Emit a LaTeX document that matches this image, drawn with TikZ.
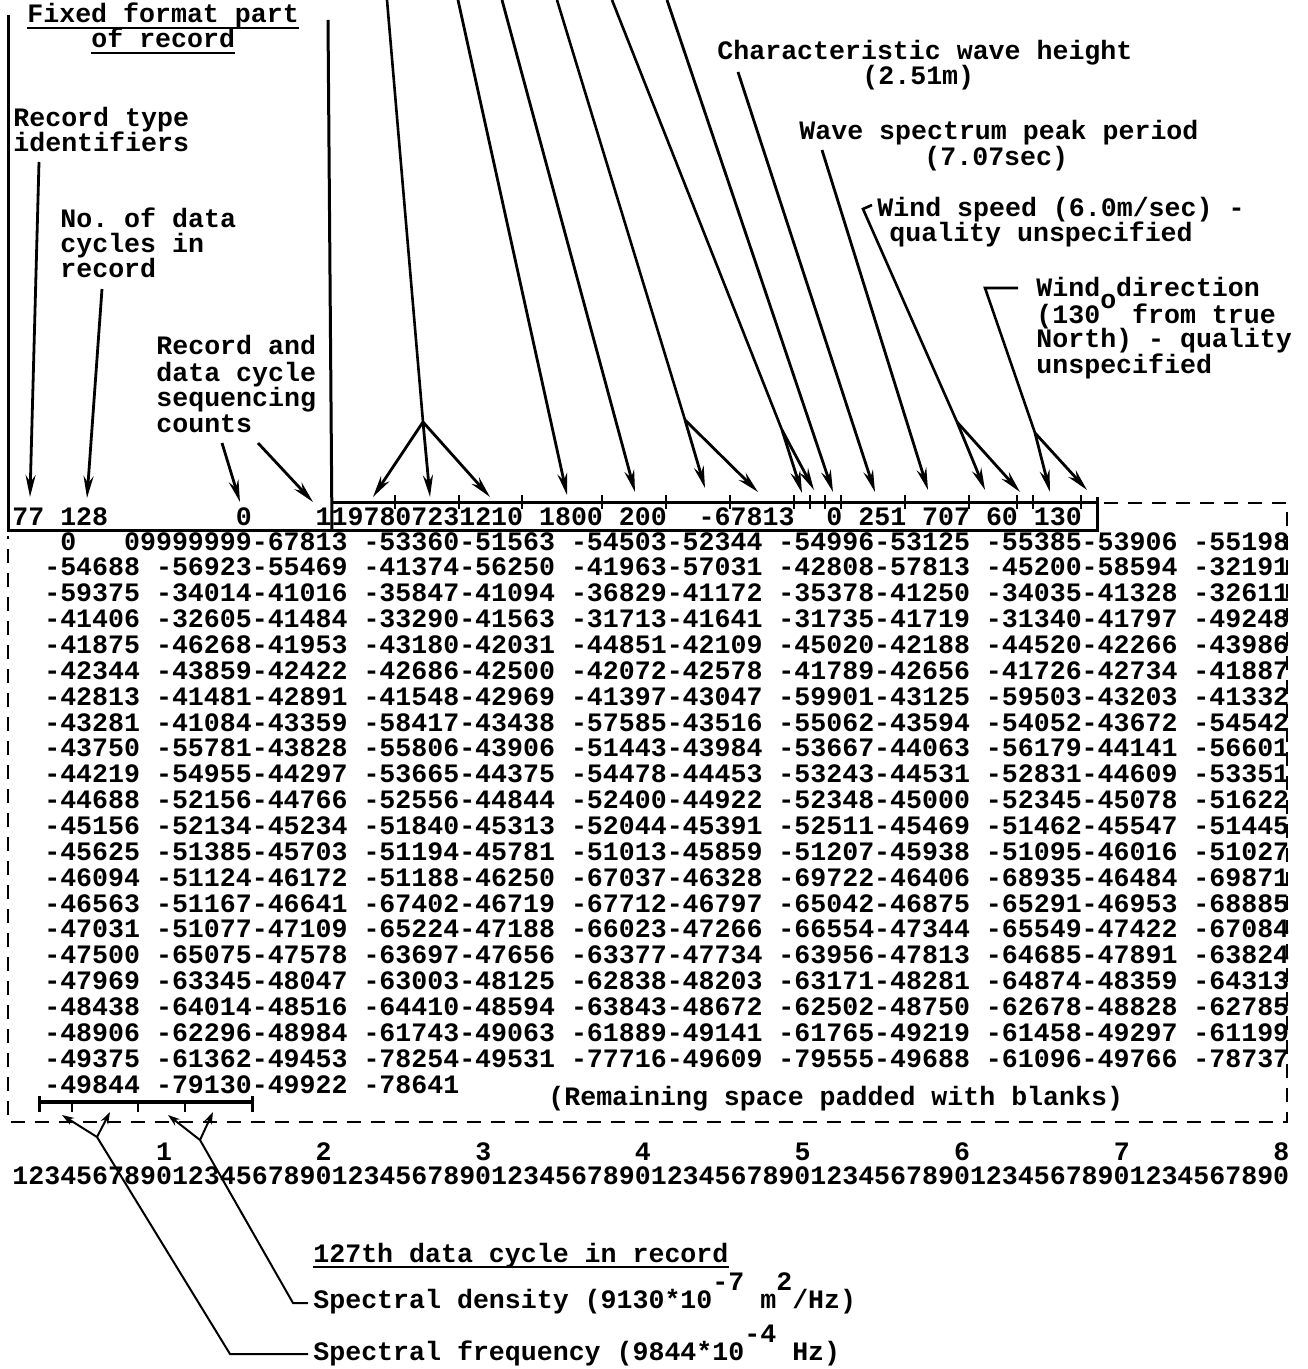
\documentclass[tikz,border=0pt]{standalone}
\usepackage{fontspec}
\setmainfont{Liberation Mono}
\usepackage{tikz}
\usetikzlibrary{arrows.meta,positioning,calc}
\frenchspacing

\begin{document}
\begin{tikzpicture}[x=0.5pt,y=-0.5pt,>={Stealth[length=11pt,width=5pt]},
  every node/.style={font=\fontsize{13.3}{13}\selectfont\bfseries,inner sep=0pt,anchor=base west}]
\tikzset{ptr/.style={->,line width=1.4pt},
  lead/.style={line width=1.3pt},
  fine/.style={line width=1pt},
  upptr/.style={->,line width=1pt,>={Stealth[length=6pt,width=4pt]}},
  frame/.style={line width=1.5pt},
  pad/.style={line width=1.4pt,dash pattern=on 7pt off 5pt}}
\useasboundingbox (0,0) rectangle (1307,1369);

% labels above the record
\node (fix1) at (27,23) {Fixed format part};
\node (fix2) at (91,48) {of record};
\draw[fine] ([yshift=-2.5pt]fix1.base west) -- ([yshift=-2.5pt]fix1.base east);
\draw[fine] ([yshift=-2.5pt]fix2.base west) -- ([yshift=-2.5pt]fix2.base east);
\node (typ1) at (13,127) {Record type};
\node (typ2) at (13,152) {identifiers};
\node (cyc1) at (60,228) {No. of data};
\node (cyc2) at (60,253) {cycles in};
\node (cyc3) at (60,278) {record};
\node (seq1) at (156,355) {Record and};
\node (seq2) at (156,381) {data cycle};
\node (seq3) at (156,406) {sequencing};
\node (seq4) at (156,432) {counts};
\node (hgt1) at (717,60) {Characteristic wave height};
\node (hgt2) at (862,85) {(2.51m)};
\node (per1) at (799,140) {Wave spectrum peak period};
\node (per2) at (924,166) {(7.07sec)};
\node (spd1) at (877,217) {Wind speed (6.0m/sec) -};
\node (spd2) at (889,242) {quality unspecified};
\node (dir1) at (1036,297) {Wind direction};
\node (dir2) at (1036,323) {(130\raisebox{7pt}{o} from true};
\node (dir3) at (1036,348) {North) - quality};
\node (dir4) at (1036,373) {unspecified};

% the record
\node (hdr) at (12,525) {77~128~~~~~~~~0~~~~1197807231210~1800~200~~-67813~~0~251~707~60~130};
\node (r1) at (12,550) {~~~0~~~09999999-67813 -53360-51563 -54503-52344 -54996-53125 -55385-53906 -55198};
\node (r2) at (12,575.9) {~~-54688 -56923-55469 -41374-56250 -41963-57031 -42808-57813 -45200-58594 -32191};
\node (r3) at (12,601.7) {~~-59375 -34014-41016 -35847-41094 -36829-41172 -35378-41250 -34035-41328 -32611};
\node (r4) at (12,627.6) {~~-41406 -32605-41484 -33290-41563 -31713-41641 -31735-41719 -31340-41797 -49248};
\node (r5) at (12,653.4) {~~-41875 -46268-41953 -43180-42031 -44851-42109 -45020-42188 -44520-42266 -43986};
\node (r6) at (12,679.3) {~~-42344 -43859-42422 -42686-42500 -42072-42578 -41789-42656 -41726-42734 -41887};
\node (r7) at (12,705.2) {~~-42813 -41481-42891 -41548-42969 -41397-43047 -59901-43125 -59503-43203 -41332};
\node (r8) at (12,731) {~~-43281 -41084-43359 -58417-43438 -57585-43516 -55062-43594 -54052-43672 -54542};
\node (r9) at (12,756.9) {~~-43750 -55781-43828 -55806-43906 -51443-43984 -53667-44063 -56179-44141 -56601};
\node (r10) at (12,782.7) {~~-44219 -54955-44297 -53665-44375 -54478-44453 -53243-44531 -52831-44609 -53351};
\node (r11) at (12,808.6) {~~-44688 -52156-44766 -52556-44844 -52400-44922 -52348-45000 -52345-45078 -51622};
\node (r12) at (12,834.5) {~~-45156 -52134-45234 -51840-45313 -52044-45391 -52511-45469 -51462-45547 -51445};
\node (r13) at (12,860.3) {~~-45625 -51385-45703 -51194-45781 -51013-45859 -51207-45938 -51095-46016 -51027};
\node (r14) at (12,886.2) {~~-46094 -51124-46172 -51188-46250 -67037-46328 -69722-46406 -68935-46484 -69871};
\node (r15) at (12,912) {~~-46563 -51167-46641 -67402-46719 -67712-46797 -65042-46875 -65291-46953 -68885};
\node (r16) at (12,937.9) {~~-47031 -51077-47109 -65224-47188 -66023-47266 -66554-47344 -65549-47422 -67084};
\node (r17) at (12,963.8) {~~-47500 -65075-47578 -63697-47656 -63377-47734 -63956-47813 -64685-47891 -63824};
\node (r18) at (12,989.6) {~~-47969 -63345-48047 -63003-48125 -62838-48203 -63171-48281 -64874-48359 -64313};
\node (r19) at (12,1015.5) {~~-48438 -64014-48516 -64410-48594 -63843-48672 -62502-48750 -62678-48828 -62785};
\node (r20) at (12,1041.3) {~~-48906 -62296-48984 -61743-49063 -61889-49141 -61765-49219 -61458-49297 -61199};
\node (r21) at (12,1067.2) {~~-49375 -61362-49453 -78254-49531 -77716-49609 -79555-49688 -61096-49766 -78737};
\node (r22) at (12,1093.1) {~~-49844 -79130-49922 -78641};
\node (pad) at (548,1105) {(Remaining space padded with blanks)};
\node (tens) at (12,1160) {~~~~~~~~~1~~~~~~~~~2~~~~~~~~~3~~~~~~~~~4~~~~~~~~~5~~~~~~~~~6~~~~~~~~~7~~~~~~~~~8};
\node (cols) at (12,1184) {12345678901234567890123456789012345678901234567890123456789012345678901234567890};

% labels below the record
\node (last) at (313,1262) {127th data cycle in record};
\draw[fine] ([yshift=-2.5pt]last.base west) -- ([yshift=-2.5pt]last.base east);
\node (dens) at (313,1308) {Spectral density (9130*10\raisebox{9pt}{-7} m\raisebox{9pt}{2}/Hz)};
\node (freq) at (313,1360) {Spectral frequency (9844*10\raisebox{9pt}{-4} Hz)};

% frame of the fixed part and dashed rest
\coordinate (fixTL) at (8,15);
\coordinate (fixBL) at (8,530);
\coordinate (fixBR) at (1097,530);
\coordinate (fixTR) at (1097,497);
\coordinate (midT) at (328,20);
\coordinate (midB) at (332,530);
\coordinate (fldL) at (332,502);
\coordinate (fldR) at (1097,502);
\draw[frame] (fixTL) -- (fixBL) -- (fixBR) -- (fixTR);
\draw[frame] (midT) -- (midB);
\draw[frame] (fldL) -- (fldR);
\foreach \k in {24,28,32,37,41,45,49,50,51,52,56,60,63,64,67}
  \draw[fine] ({12+15.95*\k},495) -- ++(0,14);
\coordinate (padA) at (1104,503);
\coordinate (padB) at (1287,503);
\coordinate (padC) at (1287,1122);
\coordinate (padD) at (8,1122);
\coordinate (padE) at (8,536);
\draw[pad] (padA) -- (padB) -- (padC) -- (padD) -- (padE);

% pointers into the fixed part
\coordinate (typS) at (39,162);
\coordinate (typT) at (30,497);
\draw[ptr] (typS) -- (typT);
\coordinate (cycS) at (102,289);
\coordinate (cycT) at (87,498);
\draw[ptr] (cycS) -- (cycT);
\coordinate (seqSa) at (222,443);
\coordinate (seqTa) at (240,502);
\coordinate (seqSb) at (258,443);
\coordinate (seqTb) at (313,502);
\draw[ptr] (seqSa) -- (seqTa);
\draw[ptr] (seqSb) -- (seqTb);
\coordinate (topA) at (387,0);
\coordinate (dateJ) at (423,422);
\coordinate (yrT) at (373,497);
\coordinate (dayT) at (430,497);
\coordinate (hrT) at (490,497);
\draw[lead] (topA) -- (dateJ);
\draw[ptr] (dateJ) -- (yrT);
\draw[ptr] (dateJ) -- (dayT);
\draw[ptr] (dateJ) -- (hrT);
\coordinate (topB) at (458,0);
\coordinate (lenT) at (567,495);
\draw[ptr] (topB) -- (lenT);
\coordinate (topC) at (502,0);
\coordinate (intT) at (635,492);
\draw[ptr] (topC) -- (intT);
\coordinate (topD) at (557,0);
\coordinate (nulJ) at (685,420);
\coordinate (nulTa) at (705,488);
\coordinate (nulTb) at (758,492);
\draw[lead] (topD) -- (nulJ);
\draw[ptr] (nulJ) -- (nulTa);
\draw[ptr] (nulJ) -- (nulTb);
\coordinate (topE) at (612,0);
\coordinate (flgJ) at (782,430);
\coordinate (flgTa) at (802,493);
\coordinate (flgTb) at (814,490);
\draw[lead] (topE) -- (flgJ);
\draw[ptr] (flgJ) -- (flgTa);
\draw[ptr] (flgJ) -- (flgTb);
\coordinate (topF) at (667,0);
\coordinate (qlfT) at (833,492);
\draw[ptr] (topF) -- (qlfT);
\coordinate (hgtS) at (738,72);
\coordinate (hgtT) at (875,492);
\draw[ptr] (hgtS) -- (hgtT);
\coordinate (perS) at (822,150);
\coordinate (perT) at (928,490);
\draw[ptr] (perS) -- (perT);
\coordinate (spdA) at (872,205);
\coordinate (spdS) at (863,209);
\coordinate (spdJ) at (957,422);
\coordinate (spdTa) at (985,490);
\coordinate (spdTb) at (1020,492);
\draw[lead] (spdA) -- (spdS) -- (spdJ);
\draw[ptr] (spdJ) -- (spdTa);
\draw[ptr] (spdJ) -- (spdTb);
\coordinate (dirA) at (1018,288);
\coordinate (dirS) at (985,288);
\coordinate (dirJ) at (1035,433);
\coordinate (dirTa) at (1050,492);
\coordinate (dirTb) at (1087,490);
\draw[lead] (dirA) -- (dirS) -- (dirJ);
\draw[ptr] (dirJ) -- (dirTa);
\draw[ptr] (dirJ) -- (dirTb);

% the 127th data cycle
\coordinate (brL) at (39,1102);
\coordinate (brR) at (252,1102);
\draw[line width=2pt] (brL) -- (brR);
\draw[frame] ([yshift=3pt]brL) -- ([yshift=-5pt]brL);
\draw[frame] ([yshift=3pt]brR) -- ([yshift=-5pt]brR);
\foreach \t in {72,138,185}
  \draw[fine] (\t,1101) -- (\t,1112);
\coordinate (frqE) at (308,1354);
\coordinate (frqK) at (230,1354);
\coordinate (frqJ) at (97,1137);
\coordinate (frqTa) at (62,1115);
\coordinate (frqTb) at (110,1112);
\draw[fine] (frqE) -- (frqK) -- (frqJ);
\draw[upptr] (frqJ) -- (frqTa);
\draw[upptr] (frqJ) -- (frqTb);
\coordinate (dnsE) at (308,1303);
\coordinate (dnsK) at (293,1303);
\coordinate (dnsJ) at (200,1140);
\coordinate (dnsTa) at (168,1115);
\coordinate (dnsTb) at (213,1112);
\draw[fine] (dnsE) -- (dnsK) -- (dnsJ);
\draw[upptr] (dnsJ) -- (dnsTa);
\draw[upptr] (dnsJ) -- (dnsTb);
\end{tikzpicture}
\end{document}
